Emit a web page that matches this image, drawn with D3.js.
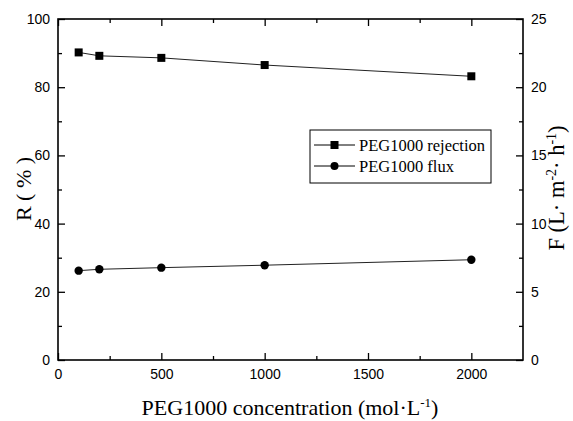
<!DOCTYPE html>
<html>
<head>
<meta charset="utf-8">
<script src="https://cdn.jsdelivr.net/npm/d3@7"></script>
<style>
  body { margin: 0; background: #fff; }
  .tick text { font-family: "Liberation Sans", Arial, sans-serif; font-size: 14px; }
</style>
</head>
<body>
<svg id="chart" width="573" height="421"></svg>
<script>

// data
var concentration = [100, 200, 500, 1000, 2000];
var rejection = [90.2, 89.2, 88.6, 86.5, 83.2];
var flux = [6.55, 6.65, 6.77, 6.95, 7.35];

var xTicks = [0, 500, 1000, 1500, 2000];
var rTicks = [0, 20, 40, 60, 80, 100];
var fTicks = [0, 5, 10, 15, 20, 25];

var serif = '"Liberation Serif", "Times New Roman", serif';

function minorTicks(major){
  var out = [];
  for (var i = 0; i < major.length - 1; i++) out.push((major[i] + major[i+1]) / 2);
  return out;
}

function drawChart(){

  var pl = 58, pt = 19, pr = 523, pb = 360;
  var svg = d3.select('#chart');

  var x = d3.scaleLinear().domain([0, 2250]).range([pl, pr]);
  var yR = d3.scaleLinear().domain([0, 100]).range([pb, pt]);
  var yF = d3.scaleLinear().domain([0, 25]).range([pb, pt]);

  // minor ticks (no labels)
  svg.append('g').attr('transform', 'translate(0,' + pb + ')')
    .call(d3.axisTop(x).tickValues(minorTicks(xTicks)).tickSize(4).tickFormat(''));
  svg.append('g').attr('transform', 'translate(0,' + pt + ')')
    .call(d3.axisBottom(x).tickValues(minorTicks(xTicks)).tickSize(4).tickFormat(''));
  svg.append('g').attr('transform', 'translate(' + pl + ',0)')
    .call(d3.axisRight(yR).tickValues(minorTicks(rTicks)).tickSize(4).tickFormat(''));
  svg.append('g').attr('transform', 'translate(' + pr + ',0)')
    .call(d3.axisLeft(yF).tickValues(minorTicks(fTicks)).tickSize(4).tickFormat(''));

  // major ticks
  var xb = svg.append('g').attr('transform', 'translate(0,' + pb + ')')
    .call(d3.axisTop(x).tickValues(xTicks).tickSize(7).tickFormat(d3.format('d')));
  xb.selectAll('.tick text').attr('y', 9).attr('dy', '0.71em');

  svg.append('g').attr('transform', 'translate(0,' + pt + ')')
    .call(d3.axisBottom(x).tickValues(xTicks).tickSize(7).tickFormat(''));

  var yl = svg.append('g').attr('transform', 'translate(' + pl + ',0)')
    .call(d3.axisRight(yR).tickValues(rTicks).tickSize(7));
  yl.selectAll('.tick text').attr('x', -8).attr('text-anchor', 'end');

  var yr = svg.append('g').attr('transform', 'translate(' + pr + ',0)')
    .call(d3.axisLeft(yF).tickValues(fTicks).tickSize(7));
  yr.selectAll('.tick text').attr('x', 8).attr('text-anchor', 'start');

  svg.selectAll('.domain').remove();
  svg.selectAll('.tick line').attr('stroke', '#000').attr('stroke-width', 1.3);
  svg.selectAll('.tick text').attr('fill', '#000');

  // frame
  svg.append('rect')
    .attr('x', pl).attr('y', pt)
    .attr('width', pr - pl).attr('height', pb - pt)
    .attr('fill', 'none').attr('stroke', '#000').attr('stroke-width', 1.6);

  // series
  var rPts = concentration.map(function(c, i){ return [x(c), yR(rejection[i])]; });
  var fPts = concentration.map(function(c, i){ return [x(c), yF(flux[i])]; });

  svg.append('path').attr('d', d3.line()(rPts))
    .attr('fill', 'none').attr('stroke', '#222').attr('stroke-width', 1);
  svg.append('path').attr('d', d3.line()(fPts))
    .attr('fill', 'none').attr('stroke', '#222').attr('stroke-width', 1);

  svg.selectAll('rect.sq').data(rPts).join('rect').attr('class', 'sq')
    .attr('x', d => d[0] - 4).attr('y', d => d[1] - 4)
    .attr('width', 8).attr('height', 8).attr('fill', '#000');

  svg.selectAll('circle.dot').data(fPts).join('circle').attr('class', 'dot')
    .attr('cx', d => d[0]).attr('cy', d => d[1]).attr('r', 4.2).attr('fill', '#000');

  // legend
  var lg = svg.append('g').attr('transform', 'translate(310,130)');
  lg.append('rect').attr('width', 181).attr('height', 53)
    .attr('fill', '#fff').attr('stroke', '#000').attr('stroke-width', 1);
  var legendItems = ['PEG1000 rejection', 'PEG1000 flux'];
  legendItems.forEach(function(name, i){
    var yy = 15 + i * 21;
    lg.append('line').attr('x1', 4).attr('x2', 45).attr('y1', yy).attr('y2', yy)
      .attr('stroke', '#000').attr('stroke-width', 1);
    if (i == 0) {
      lg.append('rect').attr('x', 20.5).attr('y', yy - 4).attr('width', 8).attr('height', 8).attr('fill', '#000');
    } else {
      lg.append('circle').attr('cx', 24.5).attr('cy', yy).attr('r', 4).attr('fill', '#000');
    }
    lg.append('text').attr('font-family', serif).attr('x', 49).attr('y', yy)
      .attr('dy', '0.35em').attr('font-size', 16.5).text(name);
  });

  // axis titles
  var xt = svg.append('text').attr('font-family', serif)
    .attr('x', 290).attr('y', 415).attr('text-anchor', 'middle').attr('font-size', 22);
  xt.append('tspan').text('PEG1000 concentration (mol\u00b7L');
  xt.append('tspan').attr('dy', -8).attr('font-size', 13).text('-1');
  xt.append('tspan').attr('dy', 8).text(')');

  svg.append('text').attr('font-family', serif)
    .attr('transform', 'translate(31,189) rotate(-90)')
    .attr('text-anchor', 'middle').attr('font-size', 22).text('R ( % )');

  var ft = svg.append('text').attr('font-family', serif)
    .attr('transform', 'translate(564,188) rotate(-90)')
    .attr('text-anchor', 'middle').attr('font-size', 22.5);
  ft.append('tspan').text('F (L\u00b7 m');
  ft.append('tspan').attr('dy', -8).attr('font-size', 14).text('-2');
  ft.append('tspan').attr('dy', 8).text('\u00b7 h');
  ft.append('tspan').attr('dy', -8).attr('font-size', 14).text('-1');
  ft.append('tspan').attr('dy', 8).text(')');
}

drawChart();

</script>
</body>
</html>
